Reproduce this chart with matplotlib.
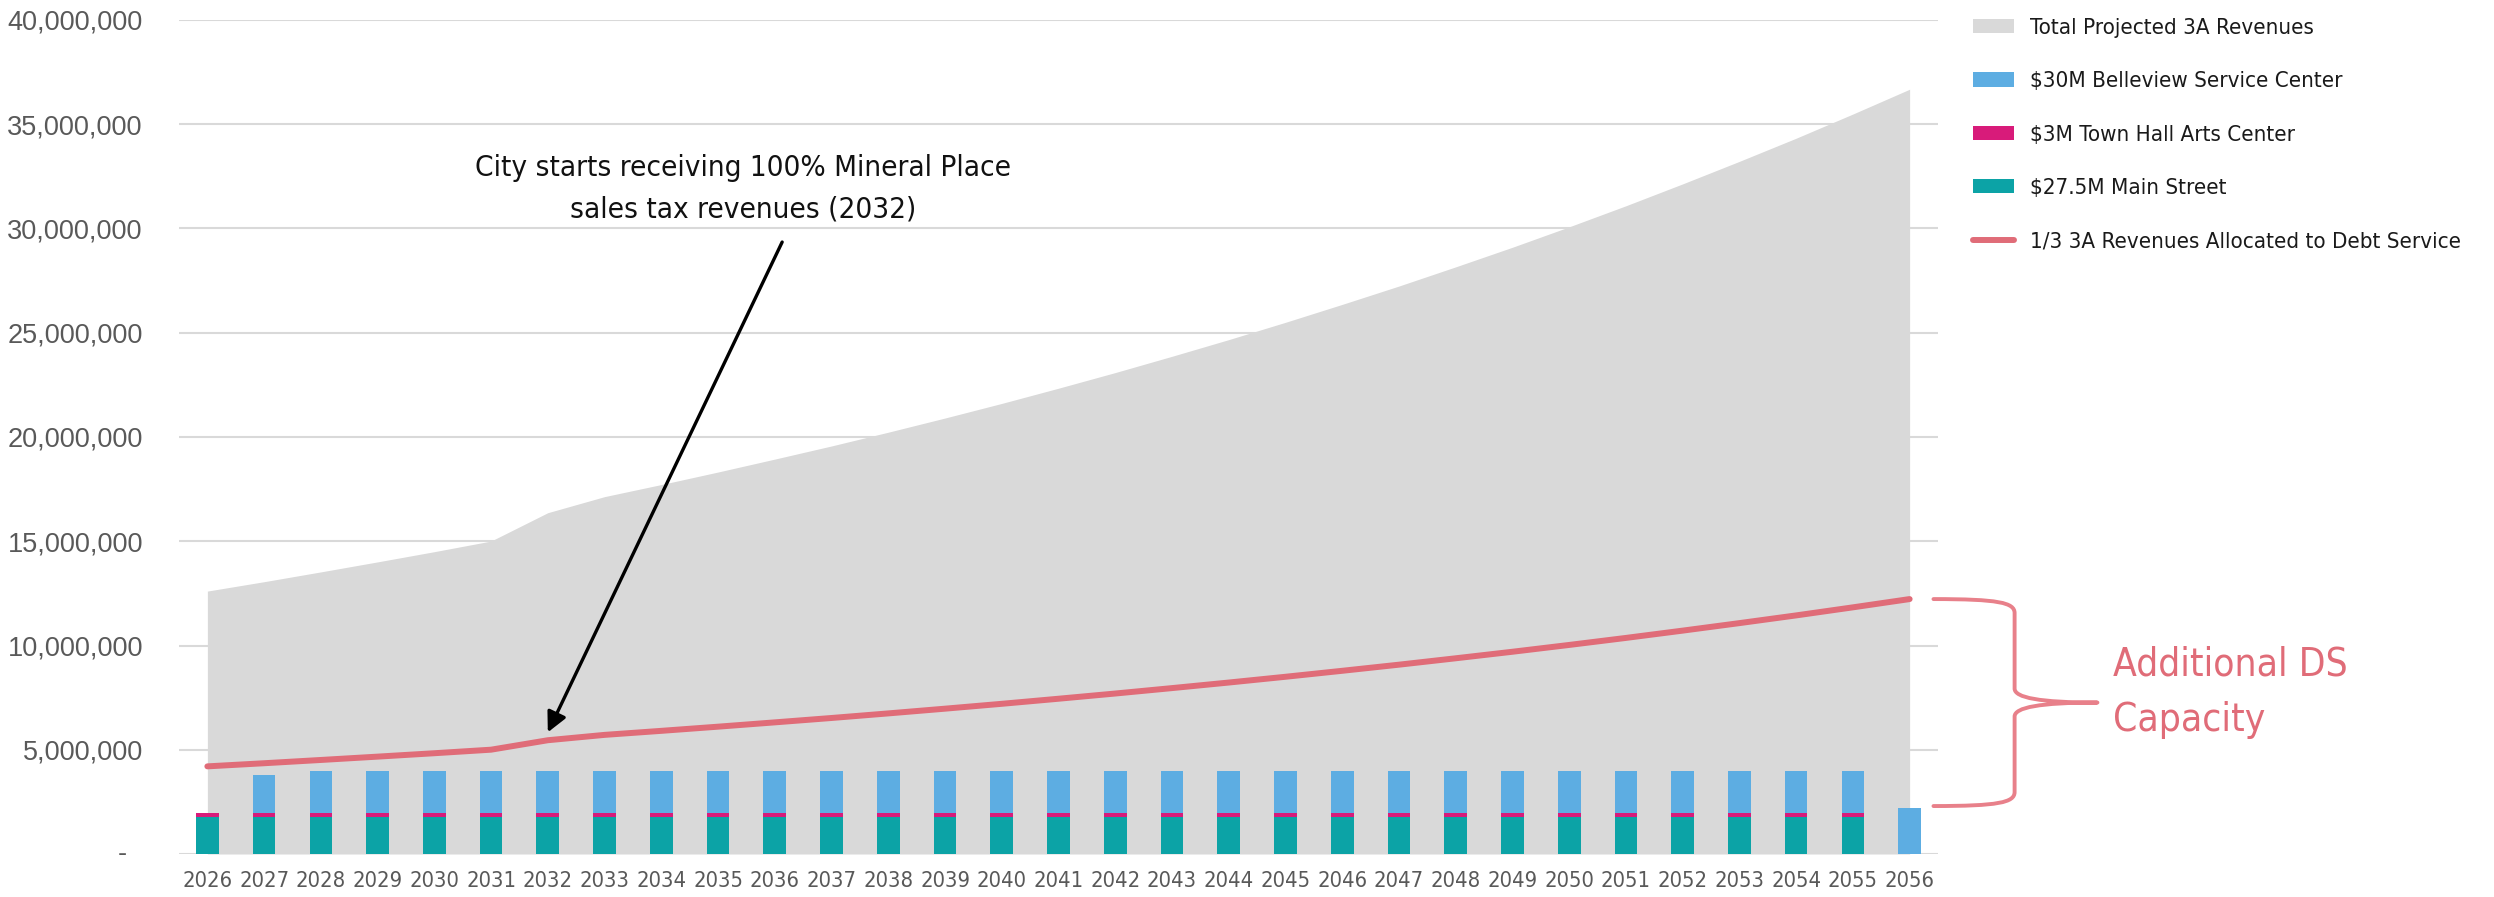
import matplotlib
matplotlib.use("Agg")
import matplotlib.pyplot as plt
from matplotlib import font_manager as fm
from matplotlib.font_manager import FontProperties
from matplotlib.patches import Patch, PathPatch
from matplotlib.lines import Line2D
from matplotlib.path import Path
from matplotlib.ticker import FuncFormatter, MultipleLocator

# ---------------------------------------------------------------- data
years = list(range(2026, 2057))

# Total projected 3A revenues ($ millions)
total_revenue_m = [
    12.61, 13.06, 13.53, 14.01, 14.50, 15.01, 16.37, 17.14, 17.72, 18.32,
    18.94, 19.57, 20.23, 20.91, 21.61, 22.34, 23.09, 23.87, 24.67, 25.50,
    26.36, 27.24, 28.16, 29.10, 30.08, 31.09, 32.14, 33.22, 34.33, 35.49,
    36.68,
]

# Annual debt service by project ($ millions)
main_street_m = [1.78] * 30 + [0.0]
town_hall_m = [0.19] * 30 + [0.0]
belleview_m = [0.0, 1.82] + [2.01] * 28 + [2.20]

# Share of 3A revenues allocated to debt service
debt_share = 1 / 3

legend_labels = [
    "Total Projected 3A Revenues",
    "$30M Belleview Service Center",
    "$3M Town Hall Arts Center",
    "$27.5M Main Street",
    "1/3 3A Revenues Allocated to Debt Service",
]
callout_text = "City starts receiving 100% Mineral Place\nsales tax revenues (2032)"
capacity_text = "Additional DS\nCapacity"

# ---------------------------------------------------------------- derived series
M = 1e6
total = [v * M for v in total_revenue_m]
debt = [v * debt_share for v in total]
main_street = [v * M for v in main_street_m]
town_hall = [v * M for v in town_hall_m]
belleview = [v * M for v in belleview_m]
bottom_blue = [a + b for a, b in zip(main_street, town_hall)]

# ---------------------------------------------------------------- fonts
COND_STRETCH = ("condensed", "semi-condensed", "extra-condensed", "ultra-condensed")
WEIGHTS = {"normal": 400, "regular": 400, "book": 400, "medium": 500,
           "light": 300, "bold": 700, "semibold": 600, "thin": 100}


def _weight(w):
    if isinstance(w, (int, float)):
        return int(w)
    return WEIGHTS.get(str(w).lower(), 400)


def condensed_font_file():
    best, best_score = None, None
    for f in fm.fontManager.ttflist:
        if f.style != "normal" or "Mono" in f.name or "CJK" in f.name:
            continue
        cond = ("Narrow" in f.name or "Condensed" in f.name or "Cond" in f.fname
                or f.stretch in COND_STRETCH)
        if not cond:
            continue
        score = abs(_weight(f.weight) - 400)
        if best_score is None or score < best_score:
            best, best_score = f.fname, score
    return best


_cf = condensed_font_file()
BASE = FontProperties(fname=_cf) if _cf else FontProperties(family="Liberation Sans")

C_AREA = "#D9D9D9"
C_BLUE = "#5DADE2"
C_PINK = "#D81B7A"
C_TEAL = "#0CA3A6"
C_LINE = "#E06C78"
C_BRACE = "#E8808A"
C_TICK = "#595959"

W, H = 2494, 897
fig = plt.figure(figsize=(W / 100, H / 100), dpi=100)
renderer = fig.canvas.get_renderer()


def sized(pt):
    fp = BASE.copy()
    fp.set_size(pt)
    return fp


def text_extent(text, pt):
    t = fig.text(0, 0, text, fontproperties=sized(pt))
    bb = t.get_window_extent(renderer)
    t.remove()
    return bb.width, bb.height


def fit_size(text, target_px, max_pt):
    w, _ = text_extent(text, 100)
    return min(max_pt, 100 * target_px / w)


x_pt = fit_size("2026", 50, 17)
call_pt = fit_size(callout_text.split("\n")[0], 535, 25)
cap_pt = fit_size(capacity_text.split("\n")[0], 235, 33)
leg_pt = fit_size(legend_labels[-1], 455, 16)

ax = fig.add_axes([179 / W, 43 / H, (1938 - 179) / W, 834 / H])

# ---------------------------------------------------------------- marks
ax.fill_between(years, 0, total, color=C_AREA, lw=0, zorder=1)

bw = 0.4
ax.bar(years, main_street, width=bw, color=C_TEAL, zorder=2)
ax.bar(years, town_hall, width=bw, bottom=main_street, color=C_PINK, zorder=2)
ax.bar(years, belleview, width=bw, bottom=bottom_blue, color=C_BLUE, zorder=2)

ax.plot(years, debt, color=C_LINE, lw=4.3, solid_capstyle="round",
        solid_joinstyle="round", zorder=3)

# ---------------------------------------------------------------- axes
ax.set_xlim(years[0] - 0.5, years[-1] + 0.5)
ax.set_ylim(0, 40 * M)
ax.yaxis.set_major_locator(MultipleLocator(5 * M))
ax.yaxis.set_major_formatter(FuncFormatter(lambda v, p: "" if v == 0 else f"{v:,.0f}"))
ax.set_xticks(years)
ax.set_xticklabels([str(y) for y in years], fontproperties=sized(x_pt), color=C_TICK)
ax.yaxis.grid(True, color=C_AREA, lw=1.5)
ax.set_axisbelow(True)
for s in ax.spines.values():
    s.set_visible(False)
ax.tick_params(axis="both", length=0)
ax.tick_params(axis="y", pad=26, labelsize=19.5, labelcolor=C_TICK)
ax.tick_params(axis="x", pad=12)
for lbl in ax.get_yticklabels():
    lbl.set_fontfamily(["Liberation Sans", "DejaVu Sans"])
ax.annotate("-", xy=(0, 0), xycoords=("axes fraction", "data"),
            xytext=(-41, 0), textcoords="offset points", ha="center", va="center",
            fontsize=19.5, color=C_TICK, family=["Liberation Sans", "DejaVu Sans"])

# ---------------------------------------------------------------- callout
i32 = years.index(2032)
_, call_h = text_extent("lp", call_pt)
ax.text(2035.44, 31.9 * M, callout_text, ha="center", va="center",
        fontproperties=sized(call_pt), color="#111111",
        linespacing=46 / call_h)
ax.annotate("", xy=(years[i32], debt[i32] + 0.38 * M), xytext=(2036.13, 29.35 * M),
            arrowprops=dict(arrowstyle="-|>,head_length=0.6,head_width=0.3",
                            color="black", lw=2.4, mutation_scale=20,
                            shrinkA=0, shrinkB=0), zorder=4)

# ---------------------------------------------------------------- brace
top = debt[-1]
bot = belleview[-1] + 0.1 * M
mid = (top + bot) / 2
d = 0.67 * M
x0 = years[-1] + 0.42
xv = years[-1] + 1.85
xt = years[-1] + 3.31
xa = x0 + 0.8 * (xv - x0)
xb = xv + 0.3 * (xt - xv)
verts = [
    (x0, top),
    (xa, top), (xv, top - 0.25 * d), (xv, top - d),
    (xv, mid + d),
    (xv, mid + 0.35 * d), (xb, mid), (xt, mid),
    (xb, mid), (xv, mid - 0.35 * d), (xv, mid - d),
    (xv, bot + d),
    (xv, bot + 0.25 * d), (xa, bot), (x0, bot),
]
codes = ([Path.MOVETO] + [Path.CURVE4] * 3 + [Path.LINETO] + [Path.CURVE4] * 6
         + [Path.LINETO] + [Path.CURVE4] * 3)
ax.add_patch(PathPatch(Path(verts, codes), fill=False, edgecolor=C_BRACE, lw=2.8,
                       capstyle="round", joinstyle="round", clip_on=False, zorder=4))
_, cap_h = text_extent("lp", cap_pt)
ax.text(years[-1] + 3.59, mid + 0.5 * M, capacity_text, ha="left", va="center",
        fontproperties=sized(cap_pt), color=C_LINE,
        linespacing=61 / cap_h, clip_on=False)

# ---------------------------------------------------------------- legend
handles = [
    Patch(facecolor=C_AREA, edgecolor="none"),
    Patch(facecolor=C_BLUE, edgecolor="none"),
    Patch(facecolor=C_PINK, edgecolor="none"),
    Patch(facecolor=C_TEAL, edgecolor="none"),
    Line2D([0], [0], color=C_LINE, lw=4.3, solid_capstyle="round"),
]
leg_px = leg_pt * 100 / 72
_, row_h = text_extent("lp", leg_pt)
fig.legend(handles, legend_labels, loc="upper left",
           bbox_to_anchor=(1973 / W, 1 - (28 - row_h / 2) / H), frameon=False,
           prop=sized(leg_pt), labelcolor="#1a1a1a",
           handlelength=41 / leg_px, handleheight=14 / leg_px,
           handletextpad=16 / leg_px,
           labelspacing=(53.3 - row_h) / leg_px, borderpad=0, borderaxespad=0)

fig.savefig("out.png", dpi=100)
